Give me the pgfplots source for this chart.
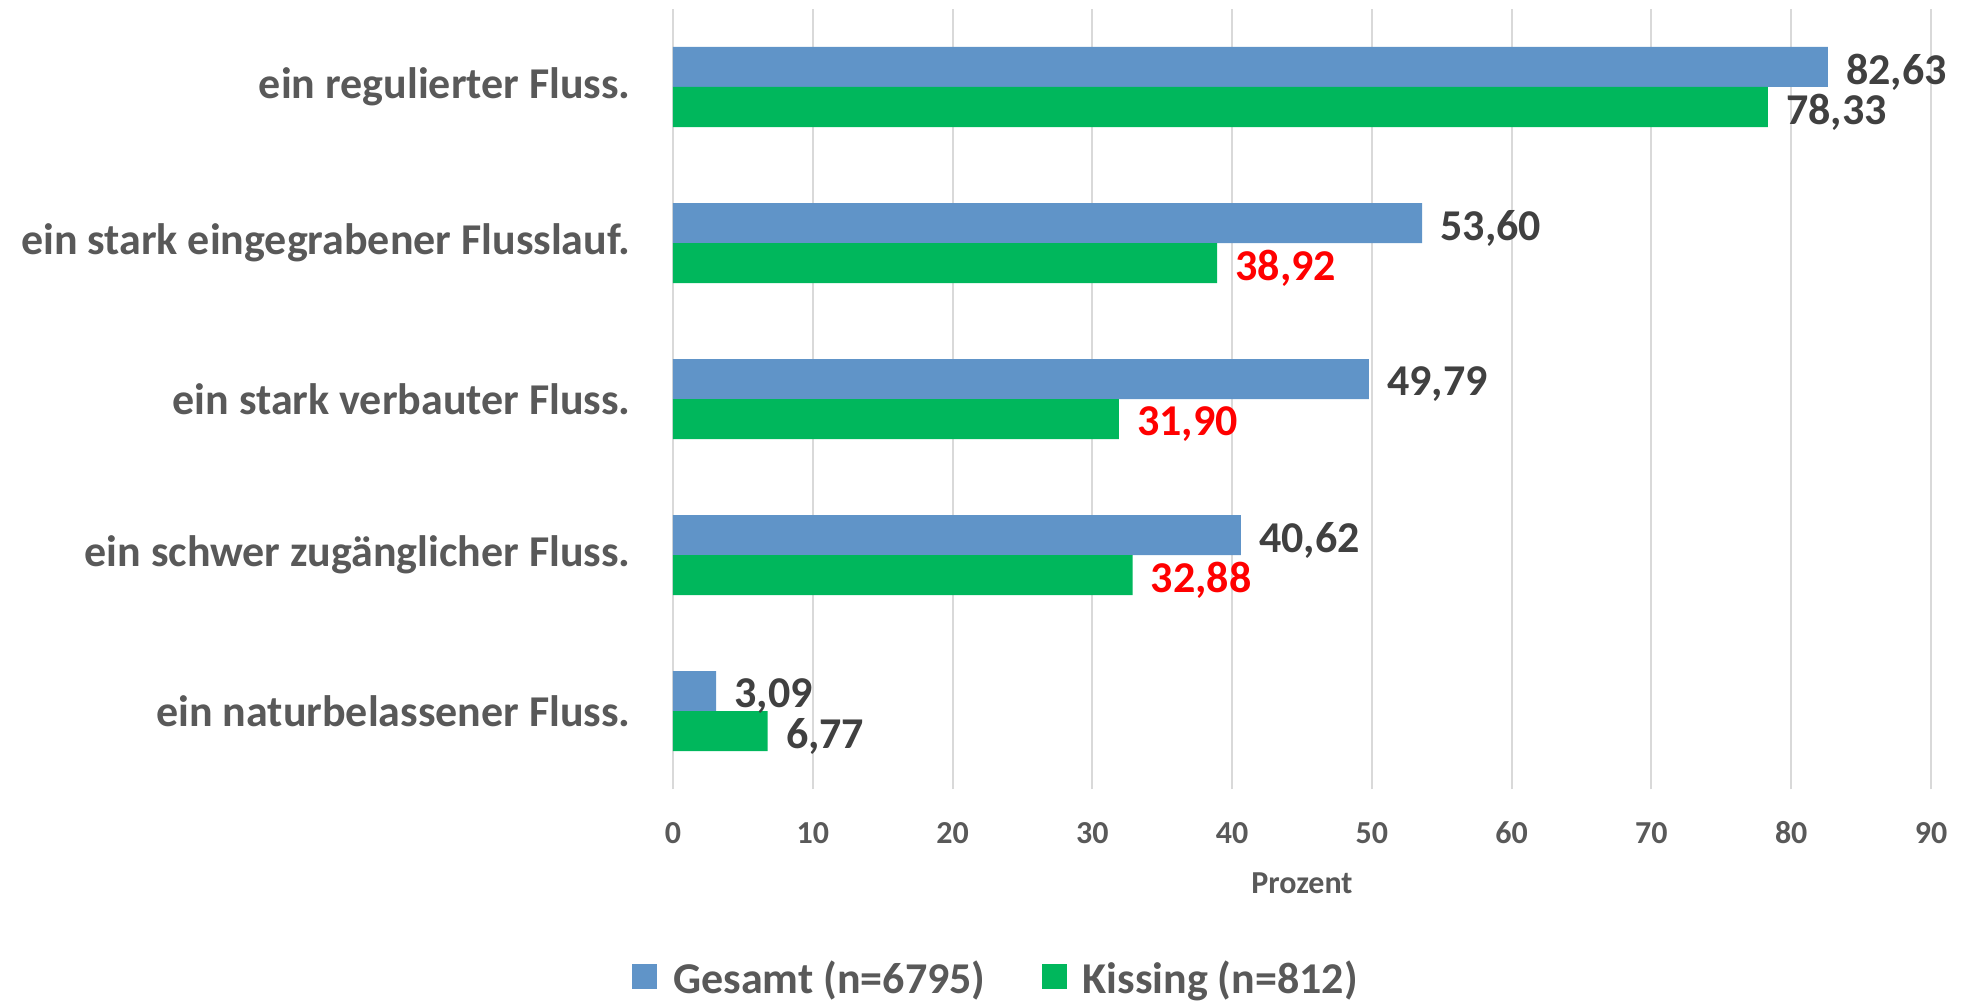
\documentclass[border=0pt]{standalone}
\usepackage{fontspec}
\setmainfont{Carlito}
\usepackage{pgfplots}
\pgfplotsset{compat=1.18}

\definecolor{gesamt}{HTML}{6094C8}
\definecolor{kissing}{HTML}{00B75C}
\definecolor{labelgray}{HTML}{595959}
\definecolor{valgray}{HTML}{404040}
\definecolor{gridgray}{HTML}{D9D9D9}

\begin{document}
\begin{tikzpicture}
\useasboundingbox (-336.5pt,-106.5pt) rectangle (648.5pt,394.5pt);
\begin{axis}[
  at={(0,0)}, anchor=south west,
  scale only axis,
  width=629pt, height=390pt,
  xbar,
  bar width=20pt,
  xmin=0, xmax=90,
  ymin=-0.5, ymax=4.5,
  xtick={0,10,...,90},
  ytick={0,1,2,3,4},
  yticklabels={ein naturbelassener Fluss., ein schwer zugänglicher Fluss., ein stark verbauter Fluss., ein stark eingegrabener Flusslauf., ein regulierter Fluss.},
  /pgf/number format/assume math mode=true,
  axis line style={draw=none},
  major tick length=0pt,
  xmajorgrids,
  grid style={gridgray, line width=1pt},
  xticklabel style={font=\bfseries\fontsize{16}{19}\selectfont, text=labelgray, anchor=center, yshift=-22pt},
  yticklabel style={font=\bfseries\fontsize{22}{26}\selectfont, text=labelgray, anchor=east, inner sep=0pt, xshift=-21pt},
  xlabel={Prozent},
  xlabel style={font=\bfseries\fontsize{16}{19}\selectfont, text=labelgray, at={(axis description cs:0.5,0)}, anchor=center, yshift=-47pt},
  point meta=x,
  nodes near coords={\pgfmathprintnumber[fixed,fixed zerofill,precision=2,use comma]{\pgfplotspointmeta}},
  nodes near coords align={horizontal},
  every node near coord/.append style={font=\bfseries\fontsize{22}{26}\selectfont, text=valgray, anchor=west, inner sep=0pt, xshift=9pt, yshift=-2.5pt},
  legend style={at={(0.2576,-0.2436)}, anchor=center, legend columns=2, draw=none, fill=none,
    font=\bfseries\fontsize{22}{26}\selectfont, text=labelgray,
    /tikz/every odd column/.append style={column sep=6pt},
    /tikz/every even column/.append style={column sep=26pt}},
  legend image code/.code={\fill[#1] (0pt,-5pt) rectangle (12.5pt,7.5pt);},
]
% Gesamt (n=6795)
\addplot[fill=gesamt, draw=none, bar shift=10pt]
  coordinates {(3.09,0) (40.62,1) (49.79,2) (53.60,3) (82.63,4)};
% Kissing (n=812), labels in dark grey
\addplot[fill=kissing, draw=none, bar shift=-10pt]
  coordinates {(6.77,0) (78.33,4)};
% Kissing (n=812), labels in red
\addplot[fill=kissing, draw=none, bar shift=-10pt, forget plot,
  every node near coord/.append style={text=red}]
  coordinates {(32.88,1) (31.90,2) (38.92,3)};
\legend{Gesamt (n=6795), Kissing (n=812)}
\end{axis}
\end{tikzpicture}
\end{document}
